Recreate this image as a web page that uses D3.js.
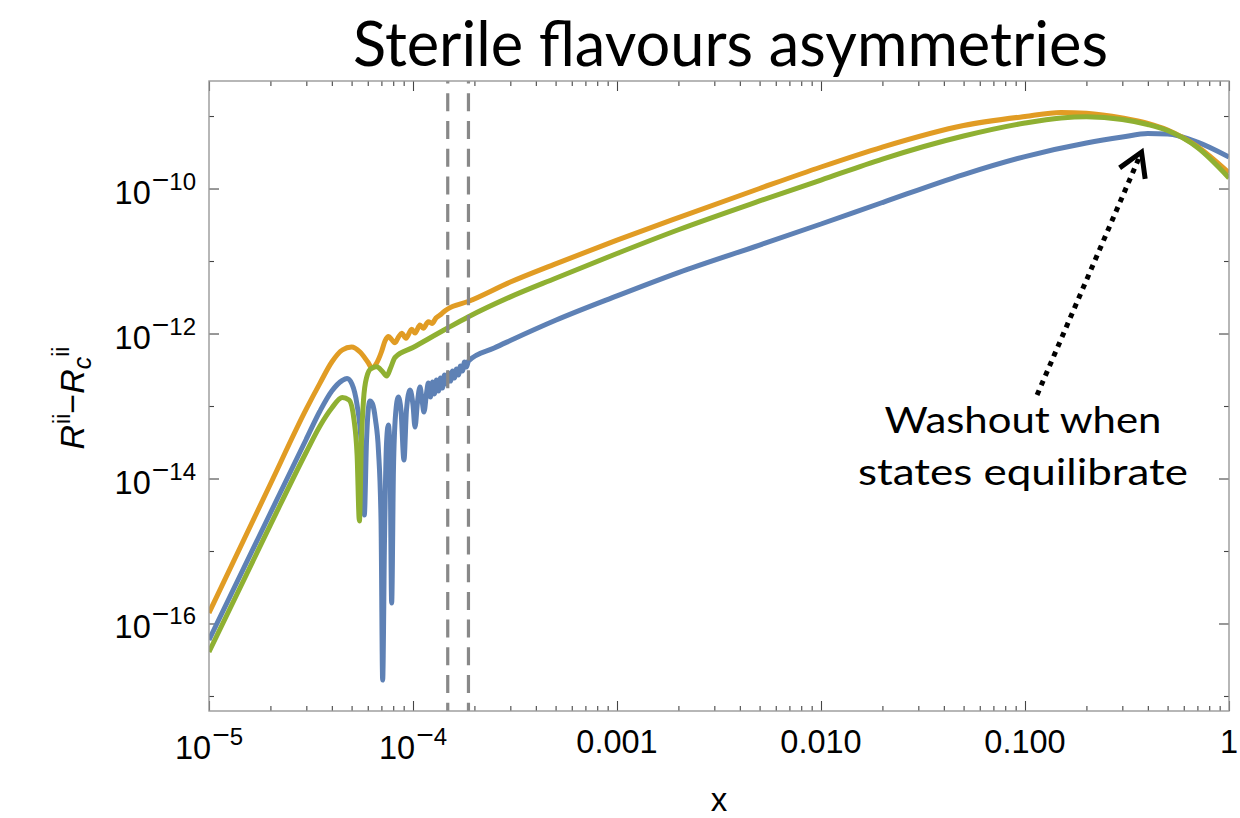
<!DOCTYPE html>
<html>
<head>
<meta charset="utf-8">
<script src="https://cdn.jsdelivr.net/npm/d3@7"></script>
<style>
  body { margin: 0; background: #fff; }
  svg { display: block; }
</style>
</head>
<body>
<svg id="chart" width="1240" height="818"></svg>
<script>
// Asymmetries R^ii - R_c^ii of the three sterile flavours versus x (log-log).

const blueX = [1e-5, 2e-5, 3e-5, 3.5e-5, 4e-5, 4.5e-5,
  4.75e-5, 5.02e-5, 5.32e-5, 5.56e-5, 5.77e-5, 5.92e-5, 6.02e-5, 6.15e-5, 6.33e-5, 6.55e-5,
  6.77e-5, 6.97e-5, 7.10e-5, 7.25e-5, 7.41e-5, 7.57e-5, 7.71e-5, 7.86e-5, 8.02e-5, 8.21e-5,
  8.47e-5, 8.73e-5, 9.03e-5, 9.29e-5, 9.67e-5,
  1.0e-4, 1.023e-4, 1.052e-4, 1.082e-4, 1.107e-4, 1.132e-4, 1.165e-4, 1.189e-4,
  1.218e-4, 1.246e-4, 1.274e-4, 1.303e-4, 1.334e-4, 1.364e-4, 1.395e-4, 1.427e-4, 1.460e-4,
  1.493e-4, 1.527e-4, 1.562e-4, 1.597e-4, 1.634e-4, 1.671e-4, 1.709e-4, 1.748e-4, 1.788e-4,
  1.829e-4, 1.871e-4,
  2.5e-4, 3e-4, 5e-4, 1e-3, 2e-3, 5e-3, 1e-2, 2e-2, 5e-2, 0.1, 0.2, 0.3, 0.4, 0.5, 0.7, 1];
const blueY = [5.92e-17, 3.34e-15, 3.51e-14, 8.53e-14, 1.61e-13, 2.25e-13,
  2.39e-13, 2.01e-13, 1.03e-13, 3.40e-14, 3.14e-15, 3.40e-14, 8.26e-14, 1.17e-13, 1.07e-13, 6.41e-14,
  2.47e-14, 2.68e-15, 1.66e-17, 1.42e-15, 2.90e-14, 5.47e-14, 2.47e-14, 1.92e-16, 1.31e-14, 7.52e-14,
  1.33e-13, 8.81e-14, 1.80e-14, 8.81e-14, 1.66e-13,
  1.03e-13, 5.13e-14, 1.135e-13, 1.83e-13, 1.21e-13, 8.26e-14, 1.51e-13, 2.07e-13,
  1.33e-13, 2.14e-13, 1.47e-13, 2.29e-13, 1.61e-13, 2.43e-13, 1.77e-13, 2.68e-13, 2.01e-13,
  2.85e-13, 2.21e-13, 3.04e-13, 2.43e-13, 3.24e-13, 2.68e-13, 3.56e-13, 3.04e-13, 4.05e-13,
  3.45e-13, 4.18e-13,
  6.31e-13, 8.00e-13, 1.52e-12, 3.30e-12, 6.92e-12, 1.66e-11, 3.24e-11, 6.41e-11, 1.56e-10,
  2.76e-10, 4.25e-10, 5.13e-10, 5.74e-10, 5.65e-10, 4.37e-10, 2.72e-10];

const orangeX = [1e-5, 2e-5, 3e-5, 3.5e-5, 4e-5, 4.5e-5, 5e-5, 5.5e-5, 6e-5,
  6.30e-5, 6.59e-5, 7.0e-5, 7.29e-5, 7.59e-5, 7.89e-5, 8.16e-5, 8.49e-5, 8.80e-5, 9.24e-5, 9.85e-5,
  1.023e-4, 1.082e-4, 1.123e-4, 1.189e-4, 1.239e-4, 1.296e-4, 1.357e-4, 1.411e-4, 1.479e-4, 1.861e-4,
  3e-4, 5e-4, 1e-3, 2e-3, 5e-3, 1e-2, 2e-2, 5e-2, 0.1, 0.15, 0.2, 0.3, 0.4, 0.5, 0.7, 1];
const orangeY = [1.40e-16, 8.39e-15, 9.10e-14, 2.07e-13, 4.05e-13, 5.92e-13, 6.52e-13, 5.56e-13, 4.05e-13,
  3.34e-13, 3.79e-13, 5.56e-13, 7.89e-13, 9.10e-13, 8.13e-13, 7.46e-13, 8.95e-13, 1.007e-12, 8.59e-13, 1.143e-12,
  1.016e-12, 1.309e-12, 1.180e-12, 1.455e-12, 1.374e-12, 1.637e-12, 1.80e-12, 1.98e-12, 2.178e-12, 2.76e-12,
  5.13e-12, 9.15e-12, 1.94e-11, 3.97e-11, 1.00e-10, 1.98e-10, 3.73e-10, 7.40e-10, 9.84e-10, 1.117e-9,
  1.089e-9, 9.38e-10, 7.92e-10, 6.41e-10, 3.78e-10, 1.64e-10];

const greenX = [1e-5, 2e-5, 3e-5, 3.5e-5, 4e-5, 4.5e-5, 4.86e-5, 5.14e-5, 5.32e-5, 5.46e-5,
  5.59e-5, 5.72e-5, 5.93e-5, 6.22e-5, 6.64e-5, 7.05e-5, 7.43e-5, 7.76e-5, 8.16e-5,
  1e-4, 1.479e-4, 1.861e-4, 3e-4, 5e-4, 1e-3, 2e-3, 5e-3, 1e-2, 2e-2, 5e-2,
  0.1, 0.15, 0.2, 0.3, 0.4, 0.5, 0.7, 1];
const greenY = [4.05e-17, 2.29e-15, 2.32e-14, 5.30e-14, 9.38e-14, 1.31e-13, 1.21e-13, 6.41e-14, 2.11e-14, 2.59e-15,
  3.40e-14, 1.21e-13, 2.51e-13, 3.29e-13, 3.48e-13, 3.04e-13, 2.59e-13, 3.34e-13, 4.67e-13,
  6.41e-13, 1.19e-12, 1.69e-12, 3.20e-12, 5.79e-12, 1.27e-11, 2.70e-11, 6.73e-11, 1.31e-10, 2.55e-10, 5.30e-10,
  8.00e-10, 9.38e-10, 9.75e-10, 8.96e-10, 7.64e-10, 6.31e-10, 3.68e-10, 1.40e-10];

// vertical dashed reference lines
const markerX = [1.48e-4, 1.87e-4];

// tick labels
const xTickValues = [1e-5, 1e-4, 1e-3, 1e-2, 1e-1, 1];
const xTickLabels = ["10^\u22125", "10^\u22124", "0.001", "0.010", "0.100", "1"];
const yTickValues = [1e-10, 1e-12, 1e-14, 1e-16];
const yTickLabels = ["10^\u221210", "10^\u221212", "10^\u221214", "10^\u221216"];
const yMinorValues = [1e-9, 1e-11, 1e-13, 1e-15, 1e-17];

// annotation (data coordinates)
const arrowTail = [0.1146, 1.42e-13];
const arrowTip = [0.3726, 3.18e-10];
const noteX = 0.0977;
const noteLines = ["Washout when", "states equilibrate"];
const noteY = [4.25e-14, 8.13e-15];

const series = [
  { name: "blue", xs: blueX, ys: blueY, color: "#5E81B5" },
  { name: "orange", xs: orangeX, ys: orangeY, color: "#E19C24" },
  { name: "green", xs: greenX, ys: greenY, color: "#8FB032" }
];

const L = 209, R = 1229, T = 81, B = 711;
const svg = d3.select("#chart");
const TICKFONT = "'Liberation Sans', Arial, Helvetica, sans-serif";
const TEXTFONT = "Lato, 'Open Sans', sans-serif";

const x = d3.scaleLog().domain([1e-5, 1]).range([L, R]);
const y = d3.scaleLog().domain([Math.pow(10, -17.207), Math.pow(10, -8.517)]).range([B, T]);

// clip region
svg.append("defs").append("clipPath").attr("id", "plotclip")
  .append("rect").attr("x", L).attr("y", T).attr("width", R - L).attr("height", B - T);

// minor x ticks: 2..9 within each decade
const xMinor = [];
for (let d = -5; d < 0; d++) for (let k = 2; k <= 9; k++) xMinor.push(k * Math.pow(10, d));

const tickColor = "#444";
function styleAxis(g) {
  g.select(".domain").remove();
  g.selectAll(".tick line").attr("stroke", tickColor).attr("stroke-width", 1.1);
  g.selectAll(".tick text").remove();
}
const axes = svg.append("g");
axes.append("g").attr("transform", `translate(0,${B})`)
  .call(d3.axisBottom(x).tickValues(xMinor).tickSize(-5).tickFormat("")).call(styleAxis);
axes.append("g").attr("transform", `translate(0,${B})`)
  .call(d3.axisBottom(x).tickValues(xTickValues).tickSize(-10).tickFormat("")).call(styleAxis);
axes.append("g").attr("transform", `translate(0,${T})`)
  .call(d3.axisTop(x).tickValues(xMinor).tickSize(-5).tickFormat("")).call(styleAxis);
axes.append("g").attr("transform", `translate(0,${T})`)
  .call(d3.axisTop(x).tickValues(xTickValues).tickSize(-10).tickFormat("")).call(styleAxis);
axes.append("g").attr("transform", `translate(${L},0)`)
  .call(d3.axisLeft(y).tickValues(yMinorValues).tickSize(-5).tickFormat("")).call(styleAxis);
axes.append("g").attr("transform", `translate(${L},0)`)
  .call(d3.axisLeft(y).tickValues(yTickValues).tickSize(-10).tickFormat("")).call(styleAxis);
axes.append("g").attr("transform", `translate(${R},0)`)
  .call(d3.axisRight(y).tickValues(yMinorValues).tickSize(-5).tickFormat("")).call(styleAxis);
axes.append("g").attr("transform", `translate(${R},0)`)
  .call(d3.axisRight(y).tickValues(yTickValues).tickSize(-10).tickFormat("")).call(styleAxis);

// curves
const line = d3.line().x(d => x(d[0])).y(d => y(d[1])).curve(d3.curveMonotoneX);
const curves = svg.append("g").attr("clip-path", "url(#plotclip)");
series.forEach(s => {
  const pts = s.xs.map((v, i) => [v, s.ys[i]]);
  curves.append("path").datum(pts)
    .attr("d", line)
    .attr("fill", "none")
    .attr("stroke", s.color)
    .attr("stroke-width", 5)
    .attr("stroke-linejoin", "bevel")
    .attr("stroke-linecap", "butt");
});

// dashed markers
svg.append("g").selectAll("line").data(markerX).join("line")
  .attr("x1", d => x(d)).attr("x2", d => x(d))
  .attr("y1", T).attr("y2", B)
  .attr("stroke", "#888").attr("stroke-width", 3.2)
  .attr("stroke-dasharray", "18 9.7").attr("stroke-dashoffset", 15.4);

// frame
svg.append("rect").attr("x", L).attr("y", T).attr("width", R - L).attr("height", B - T)
  .attr("fill", "none").attr("stroke", "#999").attr("stroke-width", 1.4);

// tick labels with superscripts
function powerLabel(sel, label) {
  const parts = label.split("^");
  sel.append("tspan").attr("font-size", 32.5).text(parts[0]);
  if (parts.length > 1) {
    const minus = parts[1].charAt(0);
    const digits = parts[1].slice(1);
    sel.append("tspan").attr("font-size", 30).attr("dx", 1).attr("dy", -14).text(minus);
    sel.append("tspan").attr("font-size", 24).text(digits);
  }
}
const xl = svg.append("g").attr("font-family", TICKFONT).attr("fill", "#000");
xTickValues.forEach((v, i) => {
  const lab = xTickLabels[i];
  const t = xl.append("text").attr("x", x(v)).attr("y", lab.includes("^") ? 759 : 753)
    .attr("text-anchor", "middle");
  powerLabel(t, lab);
});
const yl = svg.append("g").attr("font-family", TICKFONT).attr("fill", "#000");
yTickValues.forEach((v, i) => {
  const t = yl.append("text").attr("x", L - 13).attr("y", y(v) + 15).attr("text-anchor", "end");
  powerLabel(t, yTickLabels[i]);
});

// axis titles
svg.append("text").attr("x", (L + R) / 2).attr("y", 811).attr("text-anchor", "middle")
  .attr("font-family", TICKFONT).attr("font-size", 33).text("x");

const ylab = svg.append("text")
  .attr("transform", `translate(84,${(T + B) / 2 + 2}) rotate(-90)`)
  .attr("text-anchor", "middle")
  .attr("font-family", TICKFONT).attr("font-size", 34);
ylab.append("tspan").attr("font-style", "italic").text("R");
ylab.append("tspan").attr("font-size", 23).attr("dy", -14).attr("dx", 1).text("ii");
ylab.append("tspan").attr("dy", 14).text("\u2212");
ylab.append("tspan").attr("font-style", "italic").text("R");
ylab.append("tspan").attr("font-style", "italic").attr("font-size", 25).attr("dy", 7).text("c");
ylab.append("tspan").attr("font-size", 23).attr("dy", -22).text("ii");

// title
svg.append("text").attr("x", 353).attr("y", 66)
  .attr("font-family", TEXTFONT).attr("font-size", 62)
  .attr("textLength", 755).attr("lengthAdjust", "spacingAndGlyphs")
  .text("Sterile flavours asymmetries");

// annotation text
const noteWidths = [277, 330];
noteLines.forEach((s, i) => {
  svg.append("text").attr("x", x(noteX)).attr("y", y(noteY[i]))
    .attr("text-anchor", "middle")
    .attr("font-family", TEXTFONT).attr("font-size", 37)
    .attr("textLength", noteWidths[i]).attr("lengthAdjust", "spacingAndGlyphs")
    .text(s);
});

// dotted arrow
const ax0 = x(arrowTail[0]), ay0 = y(arrowTail[1]);
const ax1 = x(arrowTip[0]), ay1 = y(arrowTip[1]);
svg.append("line").attr("x1", ax0).attr("y1", ay0).attr("x2", ax1).attr("y2", ay1)
  .attr("stroke", "#000").attr("stroke-width", 5).attr("stroke-dasharray", "5 5.5");
const back = Math.atan2(ay0 - ay1, ax0 - ax1);
const headLen = 27, spread = 31 * Math.PI / 180;
const headPts = [
  [ax1 + headLen * Math.cos(back + spread), ay1 + headLen * Math.sin(back + spread)],
  [ax1, ay1],
  [ax1 + headLen * Math.cos(back - spread), ay1 + headLen * Math.sin(back - spread)]
];
svg.append("path").attr("d", d3.line()(headPts))
  .attr("fill", "none").attr("stroke", "#000").attr("stroke-width", 5)
  .attr("stroke-linejoin", "miter");
</script>
</body>
</html>
